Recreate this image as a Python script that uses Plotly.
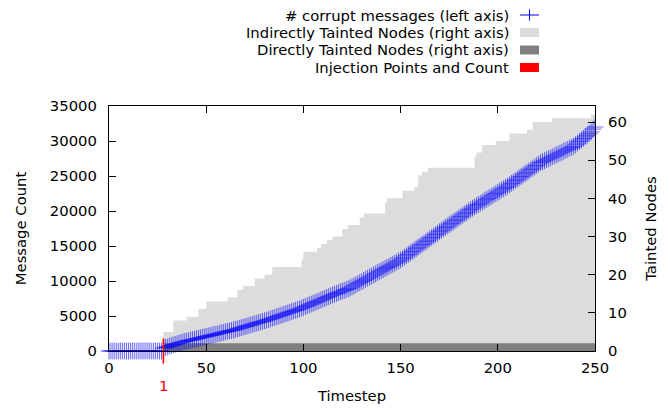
import plotly.graph_objects as go

# ---------------- data ----------------
timesteps = list(range(0, 251))
corrupt_messages = (
    [0] * 28 +
    [400, 500, 590, 680, 770, 860, 950, 1040, 1130, 1220, 1300,          # 28-38
     1365, 1430, 1495, 1560, 1625, 1690, 1755, 1820, 1885, 1950,          # 39-48
     2015, 2080, 2145, 2210, 2275, 2340, 2405, 2470, 2535, 2600,          # 49-58
     2670, 2740, 2805, 2870, 2935, 3000,                                  # 59-64
     3080, 3160, 3245, 3325, 3410, 3490, 3570, 3655, 3735, 3820,          # 65-74
     3900, 3985, 4065, 4150, 4230, 4315, 4400,                            # 75-81
     4490, 4585, 4680, 4775, 4870, 4965, 5060, 5155, 5250, 5340,          # 82-91
     5435, 5530, 5625, 5720, 5810, 5905, 6000,                            # 92-98
     6115, 6235, 6350, 6470, 6590, 6705, 6825, 6940, 7060, 7175,          # 99-108
     7295, 7410, 7530, 7650, 7765, 7885, 8000,                            # 109-115
     8110, 8220, 8335, 8445, 8555, 8665, 8780, 8890, 9000,                # 116-124
     9155, 9310, 9465, 9620, 9775, 9930, 10085, 10240, 10395, 10550,      # 125-134
     10705, 10860,                                                        # 135-136
     11010, 11165, 11320, 11470, 11625, 11780, 11930, 12085, 12240, 12390,  # 137-146
     12545, 12700, 12850, 13000,                                          # 147-150
     13200, 13405, 13605, 13810, 14010, 14210, 14415, 14615, 14815, 15020,  # 151-160
     15220, 15420, 15625, 15825, 16030, 16230, 16430, 16635, 16835, 17040,  # 161-170
     17240, 17435, 17635, 17830, 18030, 18230, 18425, 18625, 18820, 19020,  # 171-180
     19220, 19415, 19615, 19810, 20010, 20205, 20400,                     # 181-187
     20575, 20750, 20925, 21100, 21275, 21450, 21625, 21800, 21975, 22150,  # 188-197
     22325, 22500, 22675, 22850, 23025, 23200, 23375, 23550,              # 198-205
     23745, 23945, 24140, 24340, 24535, 24735, 24930, 25130, 25325, 25525,  # 206-215
     25720, 25920, 26115, 26315, 26510, 26710, 26905,                     # 216-222
     27040, 27180, 27315, 27455, 27590, 27730, 27865, 28005, 28140, 28280,  # 223-232
     28415, 28555, 28690, 28830, 28965, 29105, 29240,                     # 233-239
     29465, 29690, 29915, 30140, 30365, 30590, 30815, 31040, 31300, 31700,  # 240-249
     32000]                                                               # 250
)

# indirectly tainted nodes: step change points (timestep, count)
indirect_t = [0, 28, 33, 40, 46, 50, 61, 66, 69, 75, 80, 84, 99, 100, 107, 109,
              112, 115, 120, 123, 129, 131, 142, 143, 151, 157, 159, 161, 164,
              188, 189, 192, 199, 206, 215, 218, 228, 248, 250]
indirect_n = [0, 5, 8, 9, 11, 13, 14, 16, 17, 19, 20, 22, 24, 26, 27, 28,
              29, 30, 32, 33, 35, 36, 39, 40, 42, 43, 46, 47, 48,
              51, 52, 54, 55, 57, 58, 60, 61, 62, 62]

# directly tainted nodes
direct_t = [0, 28, 250]
direct_n = [0, 2, 2]

# injection points
injection_t = [28]
injection_count = [1]

x_ticks = [0, 50, 100, 150, 200, 250]
left_ticks = [0, 5000, 10000, 15000, 20000, 25000, 30000, 35000]
right_ticks = [0, 10, 20, 30, 40, 50, 60]

FONT = "DejaVu Sans"
FS = 14.8

fig = go.Figure()

fig.add_trace(go.Scatter(
    x=indirect_t, y=indirect_n, yaxis="y", mode="lines", line_shape="hv",
    line=dict(width=0, color="#dcdcdc"), fill="tozeroy", fillcolor="#dcdcdc",
    showlegend=False, hoverinfo="skip"))
fig.add_trace(go.Scatter(
    x=direct_t, y=direct_n, yaxis="y", mode="lines", line_shape="hv",
    line=dict(width=0, color="#7f7f7f"), fill="tozeroy", fillcolor="#7f7f7f",
    showlegend=False, hoverinfo="skip"))
fig.add_trace(go.Scatter(
    x=timesteps, y=corrupt_messages, yaxis="y2", mode="markers",
    marker=dict(symbol="cross-thin", size=12,
                line=dict(width=1, color="rgba(0,0,255,0.6)")),
    cliponaxis=False, showlegend=False))
fig.add_trace(go.Scatter(
    x=injection_t, y=[0] * len(injection_t), yaxis="y2", mode="markers",
    marker=dict(symbol="line-ns", size=18, line=dict(width=1.6, color="red")),
    cliponaxis=False, showlegend=False))

annotations = []
for t, c in zip(injection_t, injection_count):
    annotations.append(dict(x=t, xref="x", y=-0.139, yref="paper", text=str(c),
                            showarrow=False, font=dict(family=FONT, size=FS, color="red"),
                            xanchor="center", yanchor="middle"))

# manual gnuplot-style key (text right, sample left); coordinates in screenshot pixels
x0, w, y0, h = 109, 486, 351, 245
px = lambda v: (v - x0) / w
py = lambda v: (y0 - v) / h
key_labels = ["# corrupt messages (left axis)", "Indirectly Tainted Nodes (right axis)",
              "Directly Tainted Nodes (right axis)", "Injection Points and Count"]
key_rows = [15, 32.5, 50, 67.5]
for lab, r in zip(key_labels, key_rows):
    annotations.append(dict(x=px(511), xref="paper", y=py(r), yref="paper", text=lab,
                            showarrow=False, xanchor="right", yanchor="middle",
                            font=dict(family=FONT, size=FS, color="black")))
shapes = [
    dict(type="line", xref="paper", yref="paper", x0=px(520), x1=px(539), y0=py(15), y1=py(15),
         line=dict(color="blue", width=1)),
    dict(type="line", xref="paper", yref="paper", x0=px(529.5), x1=px(529.5), y0=py(9.5), y1=py(20.5),
         line=dict(color="blue", width=1)),
]
for r, col in zip(key_rows[1:], ["#dcdcdc", "#7f7f7f", "red"]):
    shapes.append(dict(type="rect", xref="paper", yref="paper", x0=px(520), x1=px(539),
                       y0=py(r + 4.5), y1=py(r - 4.5), line=dict(width=0), fillcolor=col))

axis_common = dict(showgrid=False, zeroline=False, ticks="inside", ticklen=7,
                   tickcolor="black", linecolor="black", linewidth=1.2, automargin=False,
                   tickfont=dict(family=FONT, size=FS, color="black"))

# page body has an 8px margin, so the figure is drawn 8px smaller and offset
fig.update_layout(
    width=662, height=402, margin=dict(l=101, r=75, t=98, b=59),
    paper_bgcolor="white", plot_bgcolor="white", showlegend=False,
    font=dict(family=FONT, size=FS, color="black"),
    xaxis=dict(range=[0, 250], tickvals=x_ticks, showline=True, mirror="ticks",
               ticklabelstandoff=3,
               title=dict(text="Timestep", standoff=15, font=dict(family=FONT, size=FS)),
               **axis_common),
    yaxis=dict(range=[0, 64.2], tickvals=right_ticks, side="right", showline=True,
               ticklabelstandoff=9,
               title=dict(text="Tainted Nodes", standoff=19, font=dict(family=FONT, size=FS)),
               **axis_common),
    yaxis2=dict(range=[0, 35000], tickvals=left_ticks, side="left", overlaying="y",
                showline=True, tickformat="d", ticklabelstandoff=8,
                title=dict(text="Message Count", standoff=19, font=dict(family=FONT, size=FS)),
                **axis_common),
    annotations=annotations, shapes=shapes,
)

fig.write_html("out.html")
